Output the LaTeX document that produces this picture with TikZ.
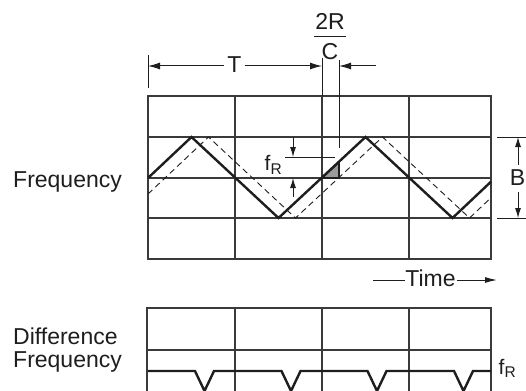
\documentclass[tikz,border=0pt]{standalone}
\usepackage{fontspec}
\setmainfont{Liberation Sans}
\usetikzlibrary{arrows.meta}
\definecolor{ink}{HTML}{1E1E1E}
\definecolor{gridc}{HTML}{3A3A3A}
\definecolor{shade}{HTML}{9A9A9A}
\tikzset{
  lbl/.style={inner sep=0pt, text=ink, font=\fontsize{23}{27}\selectfont},
  gridline/.style={draw=gridc, line width=1.1pt},
  wave/.style={draw=ink, line width=2.4pt, line join=miter},
  dwave/.style={draw=ink, line width=0.9pt, dash pattern=on 6pt off 4pt},
  dim/.style={draw=ink, line width=1pt},
  tip/.style={-{Latex[length=12pt,width=7pt]}},
}
\newcommand{\fRlabel}{\fontsize{21}{24}\selectfont f\raisebox{-3.5pt}{\fontsize{15.5}{17}\selectfont R}}
\begin{document}
\begin{tikzpicture}[x=1pt,y=-1pt]
\useasboundingbox (0,0) rectangle (526,390);
\clip (0,0) rectangle (526,390);
\fill[white] (0,0) rectangle (526,390);

% ---------- top grid ----------
\draw[gridline] (148,96) rectangle (491,259);
\foreach \y in {137,178,218} \draw[gridline] (148,\y) -- (491,\y);
\foreach \x in {235,322,409} \draw[gridline] (\x,96) -- (\x,259);

% shaded triangle
\draw[fill=shade, draw=ink, line width=1.6pt] (322,178) -- (339,178) -- (339,162) -- cycle;

% dashed (delayed) wave
\draw[dwave] (148,194) -- (208.5,137) -- (295.5,218) -- (382.5,137) -- (469.5,218) -- (491,197.7);
% solid wave
\draw[wave] (148,178) -- (191.5,137) -- (278.5,218) -- (365.5,137) -- (452.5,218) -- (491,181.7);

% ---------- T dimension ----------
\draw[dim] (148,55) -- (148,88);
\draw[dim] (322,58) -- (322,96);
\draw[dim] (339,60) -- (339,148);
\node[lbl, anchor=base] (T) at (234.5,73) {T};
\coordinate (tl) at (148,66);
\coordinate (tr) at (322,66);
\coordinate (rc) at (339,66);
\coordinate (rs) at (376,66);
\draw[dim, tip] (T.west |- tl) ++(-3,0) -- (tl);
\draw[dim, tip] (T.east |- tr) ++(3,0) -- (tr);
\draw[dim, tip] (rs) -- (rc);

% 2R/C
\node[lbl, anchor=base] (twoR) at (330,30) {2R};
\node[lbl, anchor=base] (C) at (330,59.5) {C};
\draw[dim] (314,37) -- (346,37);

% ---------- fR dimension ----------
\coordinate (fa1) at (293,137);
\coordinate (fa2) at (293,157);
\coordinate (fb1) at (293,197);
\coordinate (fb2) at (293,178);
\draw[dim] (285,157) -- (335,157);
\draw[dim, -{Latex[length=10pt,width=6pt]}] (fa1) -- (fa2);
\draw[dim, -{Latex[length=10pt,width=6pt]}] (fb1) -- (fb2);
\node[lbl, anchor=base west] (fR1) at (264.5,170.5) {\fRlabel};

% ---------- B dimension ----------
\draw[dim] (497,137) -- (526,137);
\draw[dim] (497,218) -- (526,218);
\node[lbl, anchor=center] (B) at (517.5,178) {B};
\coordinate (bt) at (518,137);
\coordinate (bb) at (518,218);
\draw[dim, -{Latex[length=10pt,width=6pt]}] (518,165) -- (bt);
\draw[dim, -{Latex[length=10pt,width=6pt]}] (518,192) -- (bb);

% ---------- labels ----------
\node[lbl, anchor=base west] (freq) at (13,187) {Frequency};
\node[lbl, anchor=base west] (diff) at (13,344) {Difference};
\node[lbl, anchor=base west] (freq2) at (13,367) {Frequency};

% Time
\node[lbl, anchor=base] (time) at (430.5,286) {Time};
\coordinate (tm1) at (373,280);
\coordinate (tm2) at (497,280);
\draw[dim] (tm1) -- (time.west |- tm1);
\draw[dim, -{Latex[length=12pt,width=6pt]}] (time.east |- tm2) ++(1,0) -- (tm2);

% ---------- bottom grid ----------
\draw[gridline] (147,400) -- (147,308) -- (491,308) -- (491,400);
\draw[gridline] (147,350) -- (491,350);
\foreach \x in {235,322,409} \draw[gridline] (\x,308) -- (\x,400);

% difference frequency trace
\draw[wave] (148,371)
  \foreach \c in {204.5,291,377,463.5} { -- (\c-9.5,371) -- (\c,391) -- (\c+9.5,371) }
  -- (491,371);
\node[lbl, anchor=base west] (fR2) at (498.5,374) {\fRlabel};
\end{tikzpicture}
\end{document}
